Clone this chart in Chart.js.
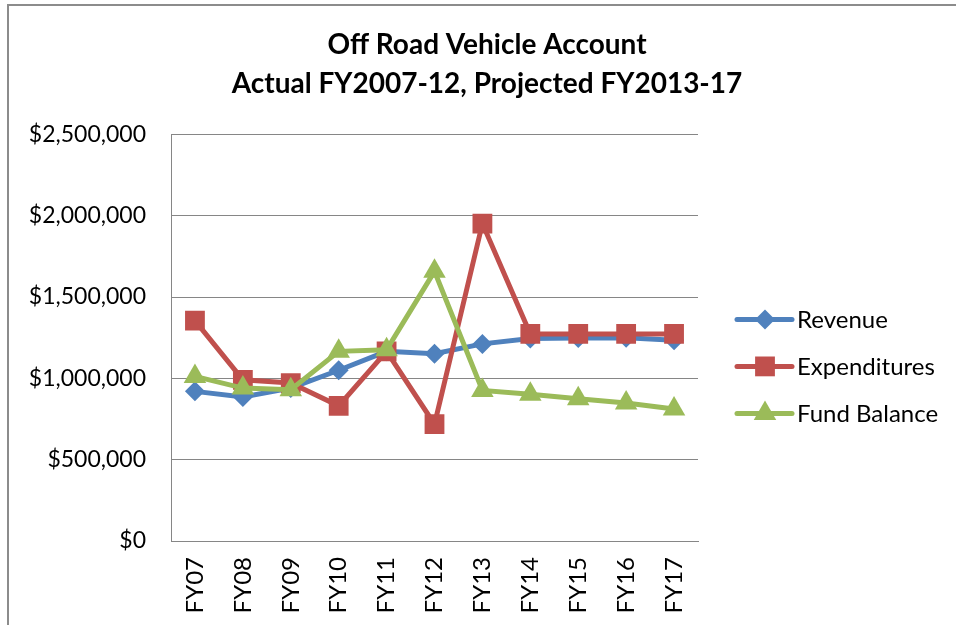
<!DOCTYPE html>
<html>
<head>
<meta charset="utf-8">
<script src="https://cdn.jsdelivr.net/npm/chart.js@4.4.1/dist/chart.umd.min.js"></script>
<style>
  html, body { margin: 0; padding: 0; background: #fff; overflow: hidden; }
  #wrap { position: relative; width: 956px; height: 625px; overflow: hidden; }
  #frame {
    position: absolute; left: 7px; top: 4px; width: 960px; height: 640px;
    border-left: 2px solid #8c8c8c; border-top: 2px solid #8c8c8c;
    pointer-events: none;
  }
</style>
</head>
<body>
<div id="wrap">
  <canvas id="linechart" width="956" height="625"></canvas>
  <div id="frame"></div>
</div>
<script>
'use strict';

// data
const years = ['FY07', 'FY08', 'FY09', 'FY10', 'FY11', 'FY12', 'FY13', 'FY14', 'FY15', 'FY16', 'FY17'];
const revenue = [920000, 885000, 940000, 1050000, 1166000, 1152000, 1212000, 1245000, 1248000, 1250000, 1235000];
const expenditures = [1355000, 991000, 971000, 831000, 1166000, 718000, 1952000, 1273000, 1273000, 1273000, 1273000];
const fundBalance = [1012000, 940000, 930000, 1166000, 1176000, 1658000, 926000, 903000, 874000, 848000, 811000];
const yTicks = [0, 500000, 1000000, 1500000, 2000000, 2500000];

const FONT = 'Lato, "Liberation Sans", sans-serif';

const series = [
  { label: 'Revenue', data: revenue, color: '#4F81BD', point: 'rectRot', radius: 10, order: 3 },
  { label: 'Expenditures', data: expenditures, color: '#C0504D', point: 'rect', radius: 14, order: 2 },
  { label: 'Fund Balance', data: fundBalance, color: '#9BBB59', point: 'triangle', radius: 13, order: 1 }
];

const data = {
  labels: years,
  datasets: series.map(s => ({
    label: s.label,
    data: s.data,
    borderColor: s.color,
    backgroundColor: s.color,
    borderWidth: 5,
    pointStyle: s.point,
    pointRadius: s.radius,
    pointBorderWidth: 0,
    pointBackgroundColor: s.color,
    order: s.order,
    tension: 0
  }))
};

const money = v => '$' + v.toLocaleString('en-US');

// Excel-style legend to the right of the plot: line with marker, then label
const sideLegend = {
  id: 'sideLegend',
  afterDraw(chart) {
    const ctx = chart.ctx;
    const area = chart.chartArea;
    const x0 = area.right + 39;
    ctx.save();
    chart.data.datasets.forEach((ds, i) => {
      const y = area.top + 185 + i * 47;
      ctx.strokeStyle = ds.borderColor;
      ctx.lineWidth = 5;
      ctx.lineCap = 'round';
      ctx.beginPath();
      ctx.moveTo(x0, y);
      ctx.lineTo(x0 + 55, y);
      ctx.stroke();
      ctx.fillStyle = ds.borderColor;
      Chart.helpers.drawPoint(ctx, {
        pointStyle: ds.pointStyle,
        radius: ds.pointRadius,
        borderWidth: 0,
        rotation: 0
      }, x0 + 28, y);
      ctx.fillStyle = '#000';
      ctx.font = '24px ' + FONT;
      ctx.textAlign = 'left';
      ctx.textBaseline = 'middle';
      ctx.fillText(ds.label, x0 + 60, y + 1);
    });
    ctx.restore();
  }
};

new Chart(document.getElementById('linechart').getContext('2d'), {
  type: 'line',
  data,
  plugins: [sideLegend],
  options: {
    responsive: false,
    animation: false,
    layout: { padding: { left: 18, right: 0, top: 0, bottom: 0 } },
    plugins: {
      title: {
        display: true,
        text: ['Off Road Vehicle Account', 'Actual FY2007-12, Projected FY2013-17'],
        color: '#000',
        font: { family: FONT, size: 28, weight: 'bold', lineHeight: 1.4 },
        padding: { top: 25, bottom: 31 }
      },
      legend: { display: false },
      tooltip: { enabled: false }
    },
    scales: {
      x: {
        offset: true,
        grid: { display: false, drawTicks: false },
        border: { display: true, color: '#868686', width: 1 },
        ticks: {
          color: '#000',
          font: { family: FONT, size: 24 },
          minRotation: 90,
          maxRotation: 90,
          padding: 16
        },
        afterFit: scale => { scale.height = 84; }
      },
      y: {
        min: 0,
        max: 2500000,
        grid: { color: '#868686', lineWidth: 1, drawTicks: false },
        border: { display: true, color: '#868686', width: 1 },
        ticks: {
          color: '#000',
          font: { family: FONT, size: 23 },
          padding: 25,
          stepSize: 500000,
          callback: v => yTicks.includes(v) ? money(v) : ''
        },
        afterFit: scale => { scale.width = 153; }
      },
      // empty axis that only reserves room for the legend
      legendRoom: {
        type: 'linear',
        position: 'right',
        display: true,
        grid: { display: false, drawTicks: false },
        border: { display: false },
        ticks: { display: false },
        afterFit: scale => { scale.width = 258; }
      }
    }
  }
});
</script>
</body>
</html>
